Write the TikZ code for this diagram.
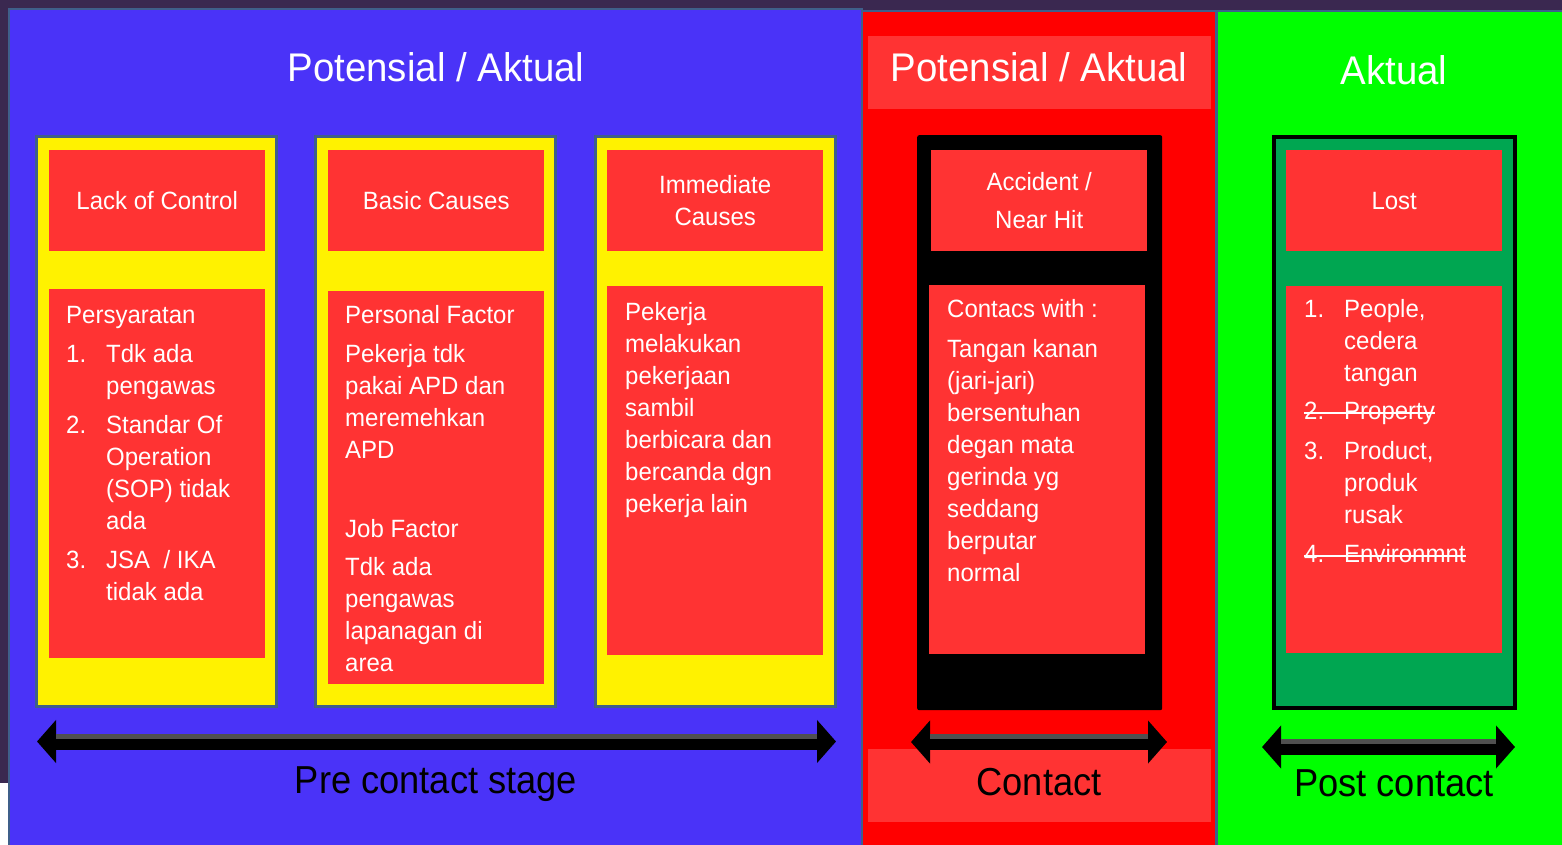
\documentclass[tikz,border=0pt]{standalone}
\usepackage{fontspec}
\setmainfont{Liberation Sans}[FakeStretch=0.96]
\newfontfamily\stagefamily{Liberation Sans}[FakeStretch=0.93]
\usetikzlibrary{arrows.meta}
\definecolor{panelblue}{HTML}{4A33F8}
\definecolor{edgeblue}{HTML}{3F5F8A}
\definecolor{cardred}{HTML}{FF3333}
\definecolor{lostgreen}{HTML}{00A651}
\definecolor{bgdark}{HTML}{3A2850}
\definecolor{bgmid}{HTML}{5C2E5E}
\definecolor{shinegray}{HTML}{505050}
\newcommand\bodyfont{\fontsize{25}{32}\selectfont}
\newcommand\titlefont{\fontsize{40}{48}\selectfont}
\newcommand\stagefont{\stagefamily\fontsize{39}{46}\selectfont}
\newcommand\itemno[1]{\makebox[40pt][l]{#1}}
\newcommand\contind{\hspace*{40pt}}
\newcommand\struck[1]{\setbox0\hbox{#1}\rlap{\rule[5.5pt]{\wd0}{1.8pt}}\box0}
\tikzset{panel/.style={anchor=north west,inner sep=0,draw=edgeblue,line width=2pt},
card/.style={anchor=north west,inner sep=0,fill=yellow,draw=edgeblue,line width=3pt,minimum width=240pt,minimum height=570pt},
head/.style={anchor=north west,inner sep=0,fill=cardred,text=white,font=\bodyfont,align=center,minimum width=216pt,minimum height=101pt},
body/.style={anchor=north west,inner sep=0,fill=cardred,minimum width=216pt},
band/.style={anchor=north west,inner sep=0,fill=cardred,minimum width=343pt,minimum height=73pt},
txt/.style={anchor=base west,inner sep=0,text=white,font=\bodyfont},
title/.style={anchor=base,inner sep=0,text=white,font=\titlefont},
stage/.style={anchor=base,inner sep=0,font=\stagefont},
stagearr/.style={line width=16pt,{Triangle[length=19pt,width=42pt]}-{Triangle[length=19pt,width=42pt]}},
shine/.style={line width=5pt,draw=shinegray,shorten <=19pt,shorten >=19pt}}
\begin{document}
\begin{tikzpicture}[x=1pt,y=-1pt]
\useasboundingbox(0,0)rectangle(1562,845);
\fill[left color=bgdark,middle color=bgmid,right color=bgdark](0,0)rectangle(1562,845);
\fill[white](0,783)rectangle(9,845);
\node[panel,fill=panelblue,minimum width=853pt,minimum height=840pt](pre)at(8,8){};
\node[panel,fill=red,minimum width=354pt,minimum height=840pt](con)at(861,10){};
\node[panel,fill=green,minimum width=350pt,minimum height=840pt](post)at(1216,10){};
\node[title](preTitle)at(436,82){Potensial / Aktual};
\node[band](conTitleBand)at(868,36){};
\node[title](conTitle)at(1039,82){Potensial / Aktual};
\node[title](postTitle)at(1394,85){Aktual};
\node[card](lackCard)at(35,135){};
\node[card](basicCard)at(314,135){};
\node[card](immCard)at(594,135){};
\node[head](lackHead)at(49,150){Lack of Control};
\node[head](basicHead)at(328,150){Basic Causes};
\node[head](immHead)at(607,150){Immediate\\Causes};
\node[body,minimum height=369pt](lackBody)at(49,289){};
\node[body,minimum height=393pt](basicBody)at(328,291){};
\node[body,minimum height=369pt](immBody)at(607,286){};
\node[txt](lackTxt)at(66,323){\begin{tabular}[t]{@{}l@{}}Persyaratan\\[7pt]\itemno{1.}Tdk ada\\\contind pengawas\\[7pt]\itemno{2.}Standar Of\\\contind Operation\\\contind (SOP) tidak\\\contind ada\\[7pt]\itemno{3.}JSA~ / IKA\\\contind tidak ada\end{tabular}};
\node[txt](basicTxt)at(345,323){\begin{tabular}[t]{@{}l@{}}Personal Factor\\[7pt]Pekerja tdk\\pakai APD dan\\meremehkan\\APD\\[47pt]Job Factor\\[6pt]Tdk ada\\pengawas\\lapanagan di\\area\end{tabular}};
\node[txt](immTxt)at(625,320){\begin{tabular}[t]{@{}l@{}}Pekerja\\melakukan\\pekerjaan\\sambil\\berbicara dan\\bercanda dgn\\pekerja lain\end{tabular}};
\node[anchor=north west,inner sep=0,fill=black,rounded corners=2pt,minimum width=245pt,minimum height=575pt](accBox)at(917,135){};
\node[head](accHead)at(931,150){Accident /\\[6pt]Near Hit};
\node[body,minimum height=369pt](accBody)at(929,285){};
\node[txt](accTxt)at(947,317){\begin{tabular}[t]{@{}l@{}}Contacs with :\\[8pt]Tangan kanan\\(jari-jari)\\bersentuhan\\degan mata\\gerinda yg\\seddang\\berputar\\normal\end{tabular}};
\node[anchor=north west,inner sep=0,fill=lostgreen,draw=black,line width=4pt,minimum width=241pt,minimum height=571pt](lostBox)at(1272,135){};
\node[head](lostHead)at(1286,150){Lost};
\node[body,minimum height=367pt](lostBody)at(1286,286){};
\node[txt](lostTxt)at(1304,317){\begin{tabular}[t]{@{}l@{}}\itemno{1.}People,\\\contind cedera\\\contind tangan\\[6pt]\struck{\itemno{2.}Property}\\[8pt]\itemno{3.}Product,\\\contind produk\\\contind rusak\\[7pt]\struck{\itemno{4.}Environmnt}\end{tabular}};
\node[band](conStageBand)at(868,749){};
\coordinate(preL)at(37,741.5);\coordinate(preR)at(836,741.5);
\coordinate(conL)at(911,742);\coordinate(conR)at(1167,742);
\coordinate(postL)at(1262,747);\coordinate(postR)at(1515,747);
\foreach\a/\b in{preL/preR,conL/conR,postL/postR}{\draw[stagearr](\a)--(\b);\draw[shine]([yshift=5.5pt]\a)--([yshift=5.5pt]\b);}
\node[stage](preStage)at(436,793){Pre contact stage};
\node[stage](conStage)at(1039,795){Contact};
\node[stage](postStage)at(1394,796){Post contact};
\end{tikzpicture}
\end{document}
